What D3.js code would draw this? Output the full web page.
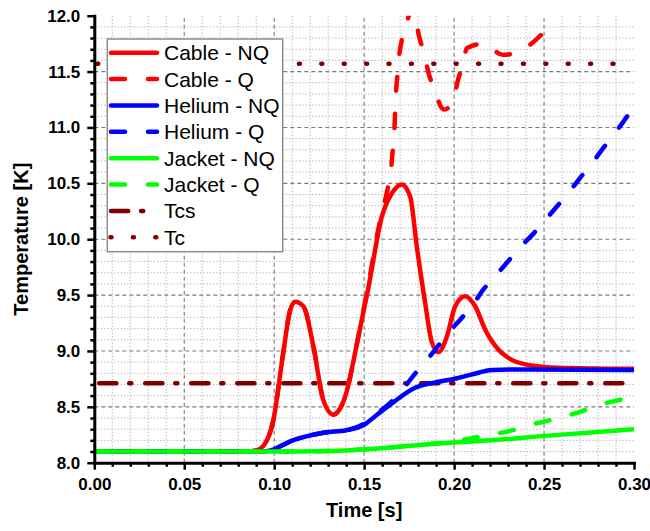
<!DOCTYPE html>
<html>
<head>
<meta charset="utf-8">
<script src="https://cdn.jsdelivr.net/npm/d3@7"></script>
<style>
  body { margin: 0; background: #fff; }
  svg { display: block; }
</style>
</head>
<body>
<script>
// series values: [time s, temperature K]
var cableNQ = [[0,8.1],[0.085,8.1],[0.09,8.11],[0.094,8.15],[0.0995,8.38],[0.105,8.98],[0.1088,9.36],[0.1116,9.44],[0.1162,9.40],[0.1218,9.04],[0.1273,8.56],[0.1329,8.43],[0.1394,8.59],[0.1468,9.13],[0.1524,9.57],[0.1598,10.20],[0.1654,10.41],[0.1709,10.49],[0.1756,10.38],[0.1793,9.93],[0.1839,9.43],[0.1876,9.08],[0.1913,8.99],[0.196,9.13],[0.2006,9.40],[0.2061,9.49],[0.2117,9.40],[0.2173,9.19],[0.2247,9.01],[0.2321,8.92],[0.2432,8.87],[0.258,8.85],[0.30,8.84]]
var cableQ = [[0,8.1],[0.085,8.1],[0.09,8.11],[0.094,8.15],[0.0995,8.38],[0.105,8.98],[0.1088,9.36],[0.1116,9.44],[0.1162,9.40],[0.1218,9.04],[0.1273,8.56],[0.1329,8.43],[0.1394,8.59],[0.1468,9.13],[0.1524,9.60],[0.1584,10.13],[0.1606,10.28],[0.1632,10.46],[0.1648,10.60],[0.1659,10.80],[0.1667,10.95],[0.1672,11.13],[0.1676,11.28],[0.1685,11.47],[0.1694,11.63],[0.1713,11.81],[0.1739,11.95],[0.1768,12.08],[0.1806,11.81],[0.1833,11.66],[0.1861,11.47],[0.1895,11.33],[0.1925,11.19],[0.1945,11.16],[0.1995,11.24],[0.2021,11.42],[0.2049,11.57],[0.2071,11.71],[0.2163,11.75],[0.2271,11.65],[0.2362,11.68],[0.2445,11.77],[0.2519,11.89]]
var heliumNQ = [[0,8.1],[0.093,8.1],[0.098,8.11],[0.1025,8.14],[0.1088,8.19],[0.1218,8.25],[0.1283,8.27],[0.14,8.29],[0.15,8.34],[0.158,8.44],[0.1654,8.53],[0.1783,8.67],[0.19,8.72],[0.2,8.75],[0.21,8.79],[0.221,8.83],[0.24,8.835],[0.30,8.83]]
var heliumQ = [[0,8.1],[0.093,8.1],[0.098,8.11],[0.1025,8.14],[0.1088,8.19],[0.1218,8.25],[0.1283,8.27],[0.14,8.29],[0.15,8.35],[0.158,8.45],[0.1654,8.55],[0.170,8.63],[0.176,8.75],[0.182,8.87],[0.1895,9.01],[0.195,9.13],[0.2034,9.28],[0.2099,9.40],[0.2163,9.55],[0.2224,9.66],[0.2299,9.80],[0.2363,9.92],[0.2441,10.05],[0.2506,10.17],[0.2575,10.30],[0.2638,10.42],[0.2706,10.56],[0.2771,10.69],[0.2836,10.83],[0.2899,10.96],[0.2966,11.11],[0.30,11.20]]
var jacketNQ = [[0,8.1],[0.10,8.1],[0.13,8.105],[0.16,8.13],[0.1894,8.17],[0.22,8.20],[0.2506,8.24],[0.30,8.30]]
var jacketQ = [[0,8.1],[0.10,8.1],[0.13,8.105],[0.16,8.13],[0.185,8.165],[0.195,8.18],[0.21,8.22],[0.219,8.25],[0.2302,8.28],[0.2404,8.33],[0.2506,8.37],[0.2605,8.41],[0.271,8.46],[0.2812,8.52],[0.2914,8.56],[0.30,8.61]]
var Tcs = 8.71
var Tc = 11.57

var xTicks = [0, 0.05, 0.10, 0.15, 0.20, 0.25, 0.30]
var yTicks = [8.0, 8.5, 9.0, 9.5, 10.0, 10.5, 11.0, 11.5, 12.0]
var legendNames = ["Cable - NQ", "Cable - Q", "Helium - NQ", "Helium - Q", "Jacket - NQ", "Jacket - Q", "Tcs", "Tc"]

var w = 650, h = 531
var margin = {top: 15.7, right: 16, bottom: 68.3, left: 94.3}

var svg = d3.select("body").append("svg").attr("width", w).attr("height", h)

var x = d3.scaleLinear().domain([0, 0.3]).range([margin.left, w - margin.right])
var y = d3.scaleLinear().domain([8, 12]).range([h - margin.bottom, margin.top])

var dashed = "14,23", dashDot = "17.2,12.8,2.2,13.8", dotted = "1,21.4"

// grid: minor dotted, major dashed, no lines on the frame edges
var minorX = x.ticks(30).filter(function(d){ return d > 0.001 && d < 0.299 })
var minorY = y.ticks(40).filter(function(d){ return d > 8.01 && d < 11.99 })
var majorX = xTicks.slice(1, -1)
var majorY = yTicks.slice(1, -1)
var isMajorX = function(d){ return majorX.some(function(m){ return Math.abs(m - d) < 1e-6 }) }
var isMajorY = function(d){ return majorY.some(function(m){ return Math.abs(m - d) < 1e-6 }) }

var grid = svg.append("g").attr("class", "grid")
grid.selectAll("line.mx").data(minorX.filter(function(d){ return !isMajorX(d) })).enter().append("line")
  .attr("x1", function(d){ return x(d) }).attr("x2", function(d){ return x(d) })
  .attr("y1", y(8)).attr("y2", y(12))
  .attr("stroke", "#b4b4b4").attr("stroke-width", 1).attr("stroke-dasharray", "1.3,2")
grid.selectAll("line.my").data(minorY.filter(function(d){ return !isMajorY(d) })).enter().append("line")
  .attr("y1", function(d){ return y(d) }).attr("y2", function(d){ return y(d) })
  .attr("x1", x(0)).attr("x2", x(0.3))
  .attr("stroke", "#b4b4b4").attr("stroke-width", 1).attr("stroke-dasharray", "1.3,2")
grid.selectAll("line.Mx").data(majorX).enter().append("line")
  .attr("x1", function(d){ return x(d) }).attr("x2", function(d){ return x(d) })
  .attr("y1", y(8)).attr("y2", y(12))
  .attr("stroke", "#7a7a7a").attr("stroke-width", 1.1).attr("stroke-dasharray", "4,3")
grid.selectAll("line.My").data(majorY).enter().append("line")
  .attr("y1", function(d){ return y(d) }).attr("y2", function(d){ return y(d) })
  .attr("x1", x(0)).attr("x2", x(0.3))
  .attr("stroke", "#7a7a7a").attr("stroke-width", 1.1).attr("stroke-dasharray", "4,3")

svg.append("clipPath").attr("id", "plot").append("rect")
  .attr("x", x(0)).attr("y", y(12)).attr("width", x(0.3) - x(0)).attr("height", y(8) - y(12))

var plot = svg.append("g").attr("clip-path", "url(#plot)")

// reference levels
plot.append("line").attr("x1", x(0)).attr("x2", x(0.3)).attr("y1", y(Tcs)).attr("y2", y(Tcs))
  .attr("stroke", "#800000").attr("stroke-width", 4.5).attr("stroke-linecap", "round")
  .attr("stroke-dasharray", dashDot).attr("stroke-dashoffset", 41.1)
plot.append("line").attr("x1", x(0)).attr("x2", x(0.3)).attr("y1", y(Tc)).attr("y2", y(Tc))
  .attr("stroke", "#800000").attr("stroke-width", 4.5).attr("stroke-linecap", "round")
  .attr("stroke-dasharray", dotted).attr("stroke-dashoffset", 19.4)

var line = d3.line()
  .x(function(d){ return x(d[0]) })
  .y(function(d){ return y(d[1]) })
  .curve(d3.curveMonotoneX)

var series = [
  {data: cableNQ, color: "#ff0000", dash: null},
  {data: cableQ, color: "#ff0000", dash: dashed},
  {data: heliumNQ, color: "#0000ff", dash: null},
  {data: heliumQ, color: "#0000ff", dash: dashed},
  {data: jacketNQ, color: "#00ff00", dash: null},
  {data: jacketQ, color: "#00ff00", dash: dashed}
]

plot.selectAll("path.s").data(series).enter().append("path")
  .attr("d", function(d){ return line(d.data) })
  .attr("fill", "none")
  .attr("stroke", function(d){ return d.color })
  .attr("stroke-width", 4.5)
  .attr("stroke-linecap", "round")
  .attr("stroke-linejoin", "round")
  .attr("stroke-dasharray", function(d){ return d.dash })

// axes
var font = "'Liberation Sans', Arial, sans-serif"

var xAxis = svg.append("g").attr("transform", "translate(0," + y(8) + ")")
  .call(d3.axisBottom(x).tickValues(xTicks).tickSize(7).tickSizeOuter(0).tickPadding(8).tickFormat(d3.format(".2f")))
var xMinor = svg.append("g").attr("transform", "translate(0," + y(8) + ")")
  .call(d3.axisBottom(x).tickValues(x.ticks(30).filter(function(d){ return !xTicks.some(function(m){ return Math.abs(m - d) < 1e-6 }) })).tickSize(4).tickFormat(""))
var yAxis = svg.append("g").attr("transform", "translate(" + x(0) + ",0)")
  .call(d3.axisLeft(y).tickValues(yTicks).tickSize(7).tickSizeOuter(0).tickPadding(7).tickFormat(d3.format(".1f")))
var yMinor = svg.append("g").attr("transform", "translate(" + x(0) + ",0)")
  .call(d3.axisLeft(y).tickValues(y.ticks(40).filter(function(d){ return !yTicks.some(function(m){ return Math.abs(m - d) < 1e-6 }) })).tickSize(4).tickFormat(""))

xMinor.select(".domain").remove()
yMinor.select(".domain").remove()
svg.selectAll(".domain").attr("stroke", "#000").attr("stroke-width", 3).attr("stroke-linecap", "square")
svg.selectAll(".tick line").attr("stroke", "#000").attr("stroke-width", 2.5)
svg.selectAll(".tick text").attr("fill", "#000").style("font-family", font).style("font-weight", "bold").style("font-size", "17px")

svg.append("text").attr("x", (x(0) + x(0.3)) / 2).attr("y", 517)
  .attr("text-anchor", "middle").style("font-family", font).style("font-weight", "bold").style("font-size", "20px")
  .text("Time [s]")
svg.append("text").attr("transform", "translate(28," + (y(8) + y(12)) / 2 + ") rotate(-90)")
  .attr("text-anchor", "middle").style("font-family", font).style("font-weight", "bold").style("font-size", "20px")
  .text("Temperature [K]")

// legend
var legend = svg.append("g")
legend.append("rect").attr("x", 107.3).attr("y", 39).attr("width", 175.4).attr("height", 212.7)
  .attr("fill", "#fff").attr("stroke", "#8c8c8c").attr("stroke-width", 1.5)

var legendStyles = [
  {color: "#ff0000", dash: null}, {color: "#ff0000", dash: dashed},
  {color: "#0000ff", dash: null}, {color: "#0000ff", dash: dashed},
  {color: "#00ff00", dash: null}, {color: "#00ff00", dash: dashed},
  {color: "#800000", dash: dashDot}, {color: "#800000", dash: dotted}
]

var row = legend.selectAll("g.row").data(legendNames).enter().append("g")
  .attr("transform", function(d, i){ return "translate(0," + (52.7 + i * 26.37) + ")" })
row.append("line").attr("x1", function(d, i){ return i == 7 ? 110.5 : 111 }).attr("x2", 157).attr("y1", 0).attr("y2", 0)
  .attr("stroke", function(d, i){ return legendStyles[i].color })
  .attr("stroke-width", 4.5).attr("stroke-linecap", "round")
  .attr("stroke-dasharray", function(d, i){ return legendStyles[i].dash })
row.append("text").attr("x", 164).attr("y", 7.5)
  .style("font-family", font).style("font-size", "21px").attr("fill", "#000")
  .text(function(d){ return d })
</script>
</body>
</html>
